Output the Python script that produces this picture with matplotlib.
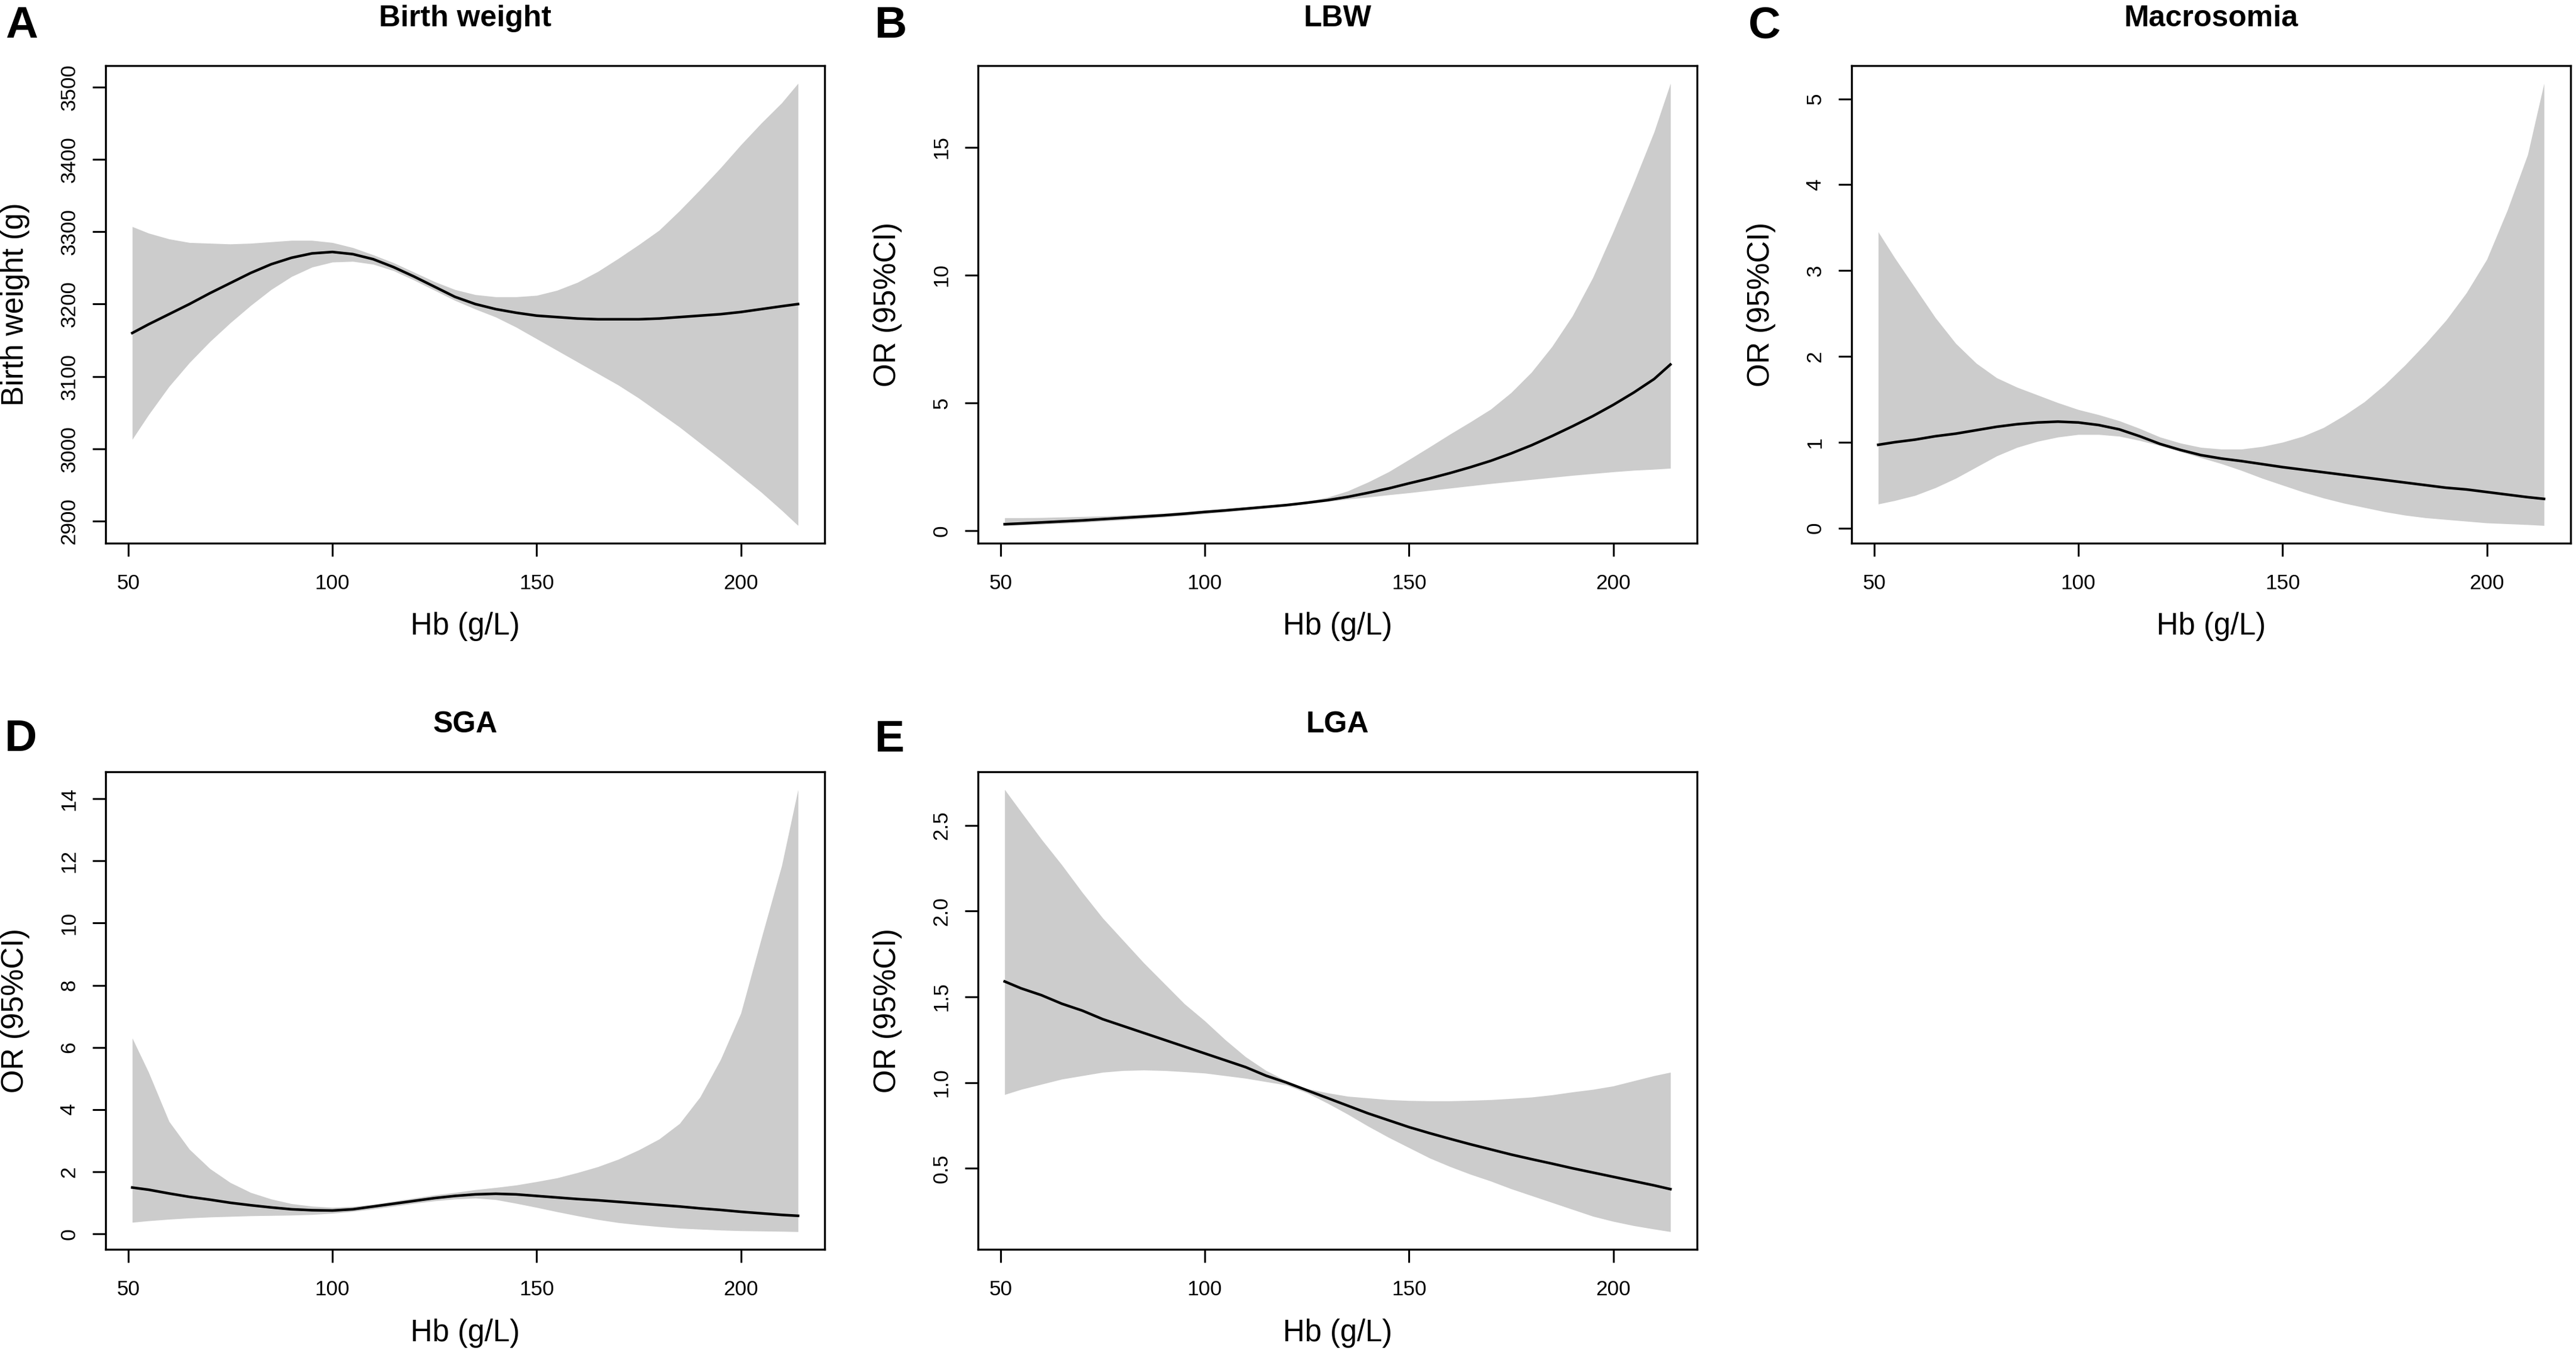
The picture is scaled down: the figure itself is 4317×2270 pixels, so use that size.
import matplotlib
matplotlib.use("Agg")
import matplotlib.pyplot as plt

plt.rcParams['font.family'] = ['Liberation Sans', 'DejaVu Sans']

# Hb (g/L) grid the curves were read at
hb = [51, 55, 60, 65, 70, 75, 80, 85, 90, 95, 100, 105, 110, 115, 120, 125, 130,
      135, 140, 145, 150, 155, 160, 165, 170, 175, 180, 185, 190, 195, 200, 205, 210, 214]

# A: birth weight (g)
bw_fit = [3160, 3172, 3186, 3200, 3215, 3229, 3243, 3255, 3264, 3270, 3272, 3269, 3262, 3251, 3238, 3224, 3210,
          3200, 3193, 3188, 3184, 3182, 3180, 3179, 3179, 3179, 3180, 3182, 3184, 3186, 3189, 3193, 3197, 3200]
bw_hi = [3307, 3298, 3290, 3285, 3284, 3283, 3284, 3286, 3288, 3288, 3285, 3278, 3268, 3257, 3244, 3231, 3220,
         3213, 3210, 3210, 3212, 3219, 3230, 3245, 3263, 3282, 3302, 3329, 3358, 3388, 3420, 3450, 3478, 3505]
bw_lo = [3013, 3047, 3086, 3119, 3148, 3174, 3198, 3220, 3238, 3251, 3258, 3259, 3255, 3246, 3233, 3219, 3205,
         3193, 3182, 3168, 3152, 3136, 3120, 3104, 3088, 3070, 3050, 3030, 3008, 2986, 2963, 2940, 2915, 2894]

# B: LBW
lbw_fit = [0.25, 0.28, 0.32, 0.36, 0.40, 0.45, 0.50, 0.55, 0.60, 0.66, 0.73, 0.79, 0.86, 0.93, 1.0, 1.09, 1.19,
           1.32, 1.48, 1.65, 1.85, 2.04, 2.25, 2.48, 2.73, 3.02, 3.34, 3.7, 4.08, 4.48, 4.92, 5.4, 5.93, 6.5]
lbw_hi = [0.5, 0.5, 0.51, 0.53, 0.55, 0.57, 0.6, 0.64, 0.68, 0.74, 0.8, 0.86, 0.92, 0.98, 1.05, 1.15, 1.3,
          1.55, 1.9, 2.3, 2.78, 3.27, 3.77, 4.25, 4.75, 5.4, 6.2, 7.2, 8.4, 9.9, 11.7, 13.6, 15.6, 17.5]
lbw_lo = [0.2, 0.22, 0.25, 0.28, 0.32, 0.37, 0.42, 0.47, 0.53, 0.59, 0.66, 0.73, 0.8, 0.87, 0.95, 1.05, 1.14,
          1.23, 1.31, 1.4, 1.48, 1.57, 1.66, 1.75, 1.84, 1.92, 2.0, 2.08, 2.16, 2.23, 2.3, 2.36, 2.4, 2.44]

# C: macrosomia
mac_fit = [0.97, 1.0, 1.03, 1.07, 1.1, 1.14, 1.18, 1.21, 1.23, 1.24, 1.23, 1.2, 1.15, 1.07, 0.98, 0.91, 0.85,
           0.81, 0.78, 0.745, 0.71, 0.68, 0.65, 0.62, 0.59, 0.56, 0.53, 0.5, 0.47, 0.45, 0.42, 0.39, 0.36, 0.34]
mac_hi = [3.45, 3.15, 2.8, 2.45, 2.15, 1.92, 1.75, 1.64, 1.55, 1.46, 1.38, 1.32, 1.25, 1.16, 1.06, 0.99, 0.94,
          0.92, 0.92, 0.95, 1.0, 1.07, 1.17, 1.31, 1.47, 1.67, 1.9, 2.15, 2.42, 2.74, 3.13, 3.7, 4.35, 5.18]
mac_lo = [0.28, 0.32, 0.38, 0.47, 0.58, 0.71, 0.84, 0.94, 1.01, 1.06, 1.09, 1.09, 1.07, 1.02, 0.96, 0.89, 0.82,
          0.75, 0.67, 0.58, 0.5, 0.42, 0.35, 0.29, 0.24, 0.19, 0.15, 0.12, 0.1, 0.08, 0.06, 0.05, 0.04, 0.03]

# D: SGA
sga_fit = [1.49, 1.42, 1.3, 1.19, 1.1, 1.0, 0.92, 0.85, 0.79, 0.76, 0.75, 0.79, 0.88, 0.97, 1.06, 1.15, 1.22,
           1.27, 1.29, 1.27, 1.22, 1.17, 1.12, 1.08, 1.03, 0.98, 0.93, 0.88, 0.82, 0.77, 0.71, 0.66, 0.61, 0.58]
sga_hi = [6.3, 5.2, 3.62, 2.72, 2.1, 1.65, 1.33, 1.12, 0.97, 0.89, 0.85, 0.88, 0.95, 1.05, 1.15, 1.25, 1.33,
          1.42, 1.49, 1.57, 1.68, 1.8, 1.97, 2.16, 2.4, 2.7, 3.05, 3.55, 4.4, 5.6, 7.1, 9.5, 11.85, 14.3]
sga_lo = [0.37, 0.42, 0.47, 0.51, 0.54, 0.56, 0.58, 0.59, 0.6, 0.62, 0.66, 0.72, 0.8, 0.89, 0.98, 1.06, 1.12,
          1.15, 1.1, 0.98, 0.85, 0.71, 0.58, 0.46, 0.36, 0.29, 0.23, 0.18, 0.15, 0.12, 0.1, 0.09, 0.08, 0.07]

# E: LGA
lga_fit = [1.59, 1.55, 1.51, 1.46, 1.42, 1.37, 1.33, 1.29, 1.25, 1.21, 1.17, 1.13, 1.09, 1.04, 1.0, 0.955, 0.91,
           0.865, 0.82, 0.78, 0.74, 0.705, 0.672, 0.64, 0.61, 0.58, 0.553, 0.527, 0.5, 0.475, 0.45, 0.425, 0.4, 0.378]
lga_hi = [2.71, 2.58, 2.42, 2.27, 2.11, 1.96, 1.83, 1.7, 1.58, 1.46, 1.36, 1.25, 1.15, 1.07, 1.01, 0.965, 0.94,
          0.92, 0.91, 0.9, 0.895, 0.893, 0.893, 0.896, 0.9, 0.907, 0.915, 0.928, 0.945, 0.96, 0.98, 1.01, 1.04, 1.06]
lga_lo = [0.93, 0.96, 0.99, 1.02, 1.04, 1.06, 1.07, 1.073, 1.07, 1.063, 1.055, 1.04, 1.025, 1.005, 0.985, 0.94, 0.88,
          0.815, 0.745, 0.68, 0.62, 0.56, 0.51, 0.465, 0.425, 0.38, 0.34, 0.3, 0.26, 0.22, 0.19, 0.165, 0.145, 0.13]

x_ticks = [50, 100, 150, 200]
bw_ticks = [2900, 3000, 3100, 3200, 3300, 3400, 3500]
lbw_ticks = [0, 5, 10, 15]
mac_ticks = [0, 1, 2, 3, 4, 5]
sga_ticks = [0, 2, 4, 6, 8, 10, 12, 14]
lga_ticks = [0.5, 1.0, 1.5, 2.0, 2.5]

panels = [
    ("A", "Birth weight", "Birth weight (g)", bw_fit, bw_lo, bw_hi, bw_ticks, "%d", 0, 0),
    ("B", "LBW", "OR (95%CI)", lbw_fit, lbw_lo, lbw_hi, lbw_ticks, "%d", 1, 0),
    ("C", "Macrosomia", "OR (95%CI)", mac_fit, mac_lo, mac_hi, mac_ticks, "%d", 2, 0),
    ("D", "SGA", "OR (95%CI)", sga_fit, sga_lo, sga_hi, sga_ticks, "%d", 0, 1),
    ("E", "LGA", "OR (95%CI)", lga_fit, lga_lo, lga_hi, lga_ticks, "%.1f", 1, 1),
]

W, H = 4317, 2270
DPI = 300
fig = plt.figure(figsize=(W / DPI, H / DPI), dpi=DPI)

col_left = [177, 1639, 3103]
row_top = [110, 1293]
box_w, box_h = 1205, 800
letter_pos = {"A": (9, 63), "B": (1466, 63), "C": (2930, 63), "D": (8, 1258), "E": (1466, 1259)}


def r_range(vals):
    # R's default 4% axis expansion
    lo, hi = min(vals), max(vals)
    d = (hi - lo) * 0.04
    return lo - d, hi + d


for letter, title, ylab, fit, lo, hi, yt, fmt, col, row in panels:
    left = col_left[col]
    top = row_top[row]
    ax = fig.add_axes([left / W, 1 - (top + box_h) / H, box_w / W, box_h / H])
    ax.fill_between(hb, lo, hi, color="#cccccc", linewidth=0)
    ax.plot(hb, fit, color="black", lw=1.05, solid_joinstyle="round")
    ax.set_xlim(r_range(hb))
    ax.set_ylim(r_range(lo + hi))
    ax.set_xticks(x_ticks, [str(t) for t in x_ticks])
    ax.set_yticks(yt, [fmt % t for t in yt])
    ax.tick_params(direction="out", length=5.3, width=0.75, labelsize=8.4, colors="black")
    ax.tick_params(axis="x", pad=7)
    ax.tick_params(axis="y", labelrotation=90, pad=5.4)
    for lab in ax.get_yticklabels():
        lab.set_va("center")
    for sp in ax.spines.values():
        sp.set_linewidth(0.8)
    ax.set_xlabel("Hb (g/L)", fontsize=12.2)
    ax.xaxis.set_label_coords(0.5, -140 / box_h)
    ax.xaxis.label.set_va("center")
    ax.set_ylabel(ylab, fontsize=12.2)
    ax.yaxis.set_label_coords(-151 / box_w, 0.5)
    ax.yaxis.label.set_va("center")

    fig.text((left + box_w / 2) / W, 1 - (top - 66) / H, title, ha="center", va="baseline",
             fontsize=12, fontweight="bold")
    lx, ly = letter_pos[letter]
    fig.text(lx / W, 1 - ly / H, letter, ha="left", va="baseline", fontsize=18, fontweight="bold")

fig.savefig("out.png", dpi=DPI)
